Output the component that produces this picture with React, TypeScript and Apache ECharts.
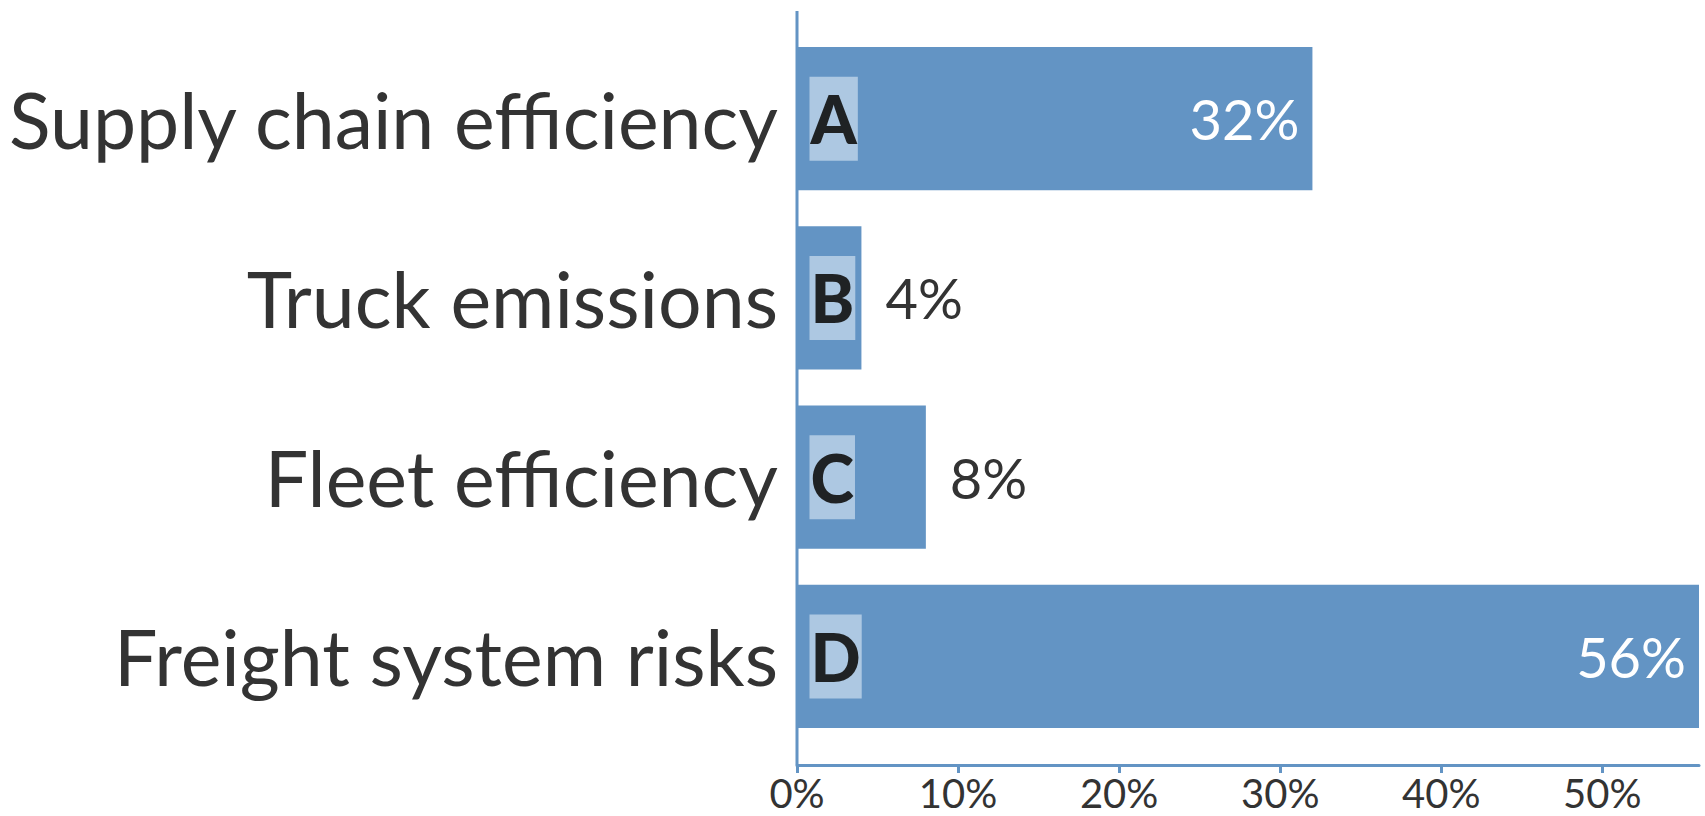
import React, { useEffect, useRef } from "react";
import * as echarts from "echarts";

const categories = [
  "Supply chain efficiency",
  "Truck emissions",
  "Fleet efficiency",
  "Freight system risks",
];
const letters = ["A", "B", "C", "D"];
const values = [32, 4, 8, 56];
const xTicks = [0, 10, 20, 30, 40, 50];
const xMax = 56;

const BAR = "#6394c4";
const BOX = "#adc8e2";
const TEXT = "#333333";
const FONT = "Lato, 'Noto Sans', sans-serif";

export default function App() {
  const ref = useRef<HTMLDivElement>(null);
  useEffect(() => {
    if (!ref.current) return;
    const chart = echarts.init(ref.current, null, { renderer: "svg" });
    const option = {
      animation: false,
      textStyle: { fontFamily: FONT },
      grid: { left: 797, right: 6, top: 29, bottom: 70, containLabel: false },
      xAxis: {
        type: "value",
        min: 0,
        max: xMax,
        interval: 10,
        offset: 19,
        splitLine: { show: false },
        axisLine: { show: true, lineStyle: { color: BAR, width: 3 } },
        axisTick: {
          show: true,
          length: 8,
          lineStyle: { color: BAR, width: 3 },
          customValues: xTicks,
        },
        axisLabel: {
          color: TEXT,
          fontSize: 40,
          fontFamily: FONT,
          margin: 8,
          customValues: xTicks,
          formatter: (v: number) => `${v}%`,
        },
      },
      yAxis: {
        type: "category",
        data: categories,
        inverse: true,
        axisLine: { show: false },
        axisTick: { show: false },
        axisLabel: {
          color: TEXT,
          fontSize: 77,
          fontFamily: FONT,
          margin: 19,
        },
      },
      graphic: [
        {
          type: "line",
          shape: { x1: 797, y1: 11, x2: 797, y2: 765 },
          style: { stroke: BAR, lineWidth: 3 },
          z: 10,
        },
      ],
      series: [
        {
          type: "bar",
          barCategoryGap: "20%",
          data: values.map((v) => ({
            value: v,
            label:
              v > 20
                ? { position: "insideRight", distance: 13, color: "#ffffff" }
                : { position: "right", distance: 24, color: TEXT },
          })),
          itemStyle: { color: BAR },
          label: {
            show: true,
            fontSize: 56,
            fontFamily: FONT,
            formatter: (p: any) => `${p.value}%`,
          },
        },
        {
          type: "scatter",
          z: 5,
          symbolSize: 1,
          clip: false,
          itemStyle: { color: BOX, opacity: 1 },
          data: letters.map((l, i) => ({ value: [0, i], name: l })),
          label: {
            show: true,
            position: "right",
            distance: 12,
            opacity: 1,
            formatter: (p: any) => p.name,
            color: "#1f2224",
            fontWeight: 900,
            fontSize: 66,
            lineHeight: 72,
            fontFamily: FONT,
            backgroundColor: BOX,
            padding: [6, 1, 6, 1],
          },
        },
      ],
    };
    chart.setOption(option as any);
    return () => chart.dispose();
  }, []);
  return (
    <div
      ref={ref}
      style={{ position: "fixed", left: 0, top: 0, width: 1705, height: 816, background: "#fff" }}
    />
  );
}
